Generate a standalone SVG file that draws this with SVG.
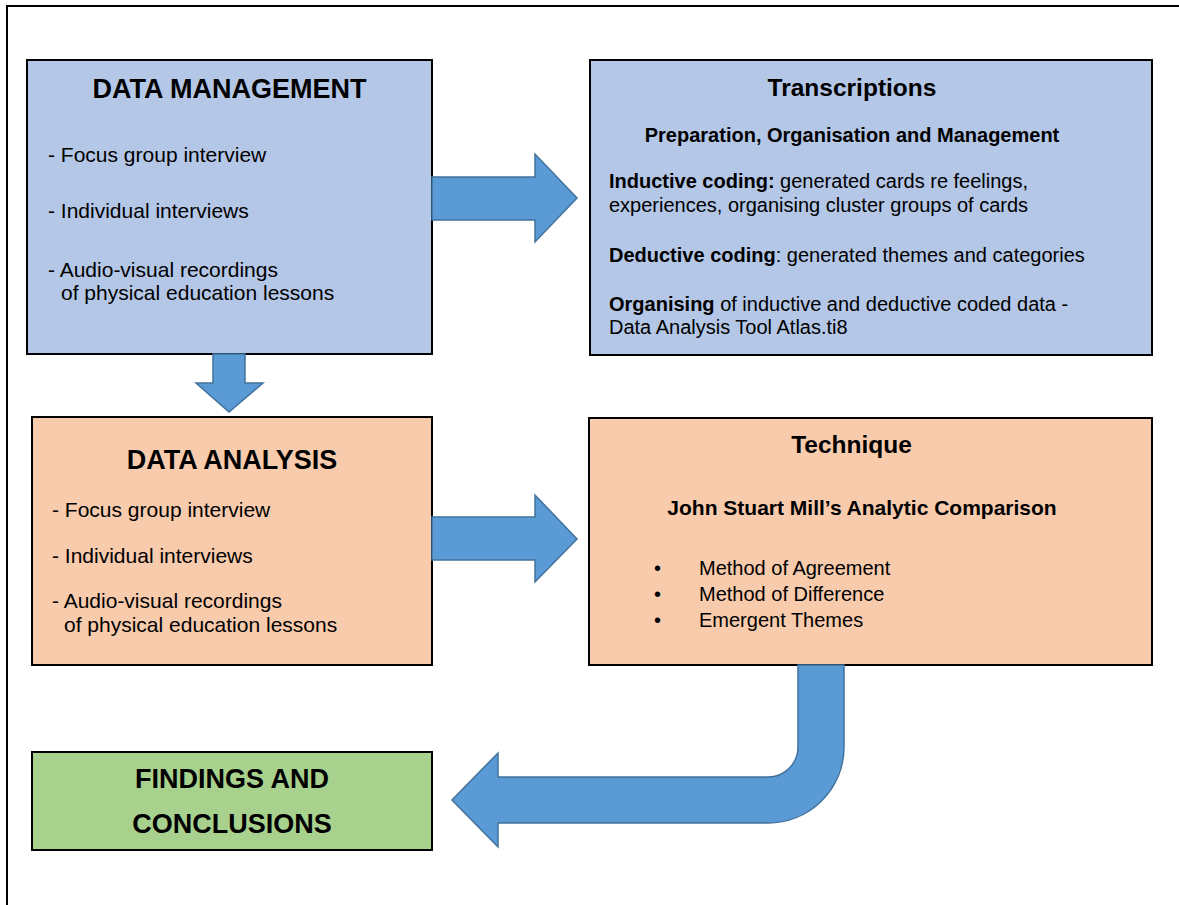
<svg xmlns="http://www.w3.org/2000/svg" width="1179" height="905" viewBox="0 0 1179 905">
<style>
text{font-family:"Liberation Sans",Arial,sans-serif;fill:#000}
.box{stroke:#000;stroke-width:2}
.blue{fill:#B4C7E7}
.orange{fill:#F8CBAD}
.green{fill:#A9D18E}
.title{font-size:27px;font-weight:bold;text-anchor:middle}
.title2{font-size:24.5px;font-weight:bold;text-anchor:middle}
.sub{font-size:20px;font-weight:bold;text-anchor:middle}
.item{font-size:21px}
.body{font-size:20px}
.b{font-weight:bold}
.arrow{fill:#5B9BD5;stroke:#41719C;stroke-width:1.5;stroke-linejoin:miter}
</style>
<rect x="7" y="6" width="1200" height="1000" fill="#fff" stroke="#000" stroke-width="2"/>

<g id="data-management">
<rect class="box blue" x="27" y="60" width="405" height="294"/>
<text class="title" x="229.5" y="98">DATA MANAGEMENT</text>
<text class="item" x="48" y="162">- Focus group interview</text>
<text class="item" x="48" y="218">- Individual interviews</text>
<text class="item" x="48" y="277">- Audio-visual recordings</text>
<text class="item" x="61" y="300">of physical education lessons</text>
</g>

<g id="transcriptions">
<rect class="box blue" x="590" y="60" width="562" height="295"/>
<text class="title2" x="852" y="96">Transcriptions</text>
<text class="sub" x="852" y="142">Preparation, Organisation and Management</text>
<text class="body" x="609" y="188"><tspan class="b">Inductive coding:</tspan> generated cards re feelings,</text>
<text class="body" x="609" y="212">experiences, organising cluster groups of cards</text>
<text class="body" x="609" y="262"><tspan class="b">Deductive coding</tspan>: generated themes and categories</text>
<text class="body" x="609" y="311"><tspan class="b">Organising</tspan> of inductive and deductive coded data -</text>
<text class="body" x="609" y="334">Data Analysis Tool Atlas.ti8</text>
</g>

<g id="data-analysis">
<rect class="box orange" x="32" y="417" width="400" height="248"/>
<text class="title" x="232" y="469">DATA ANALYSIS</text>
<text class="item" x="52" y="517">- Focus group interview</text>
<text class="item" x="52" y="563">- Individual interviews</text>
<text class="item" x="52" y="608">- Audio-visual recordings</text>
<text class="item" x="64" y="632">of physical education lessons</text>
</g>

<g id="technique">
<rect class="box orange" x="589" y="418" width="563" height="247"/>
<text class="title2" x="851.5" y="453">Technique</text>
<text class="sub" x="862" y="515" style="font-size:21px">John Stuart Mill’s Analytic Comparison</text>
<text class="body" x="654" y="575">•</text>
<text class="body" x="699" y="575">Method of Agreement</text>
<text class="body" x="654" y="601">•</text>
<text class="body" x="699" y="601">Method of Difference</text>
<text class="body" x="654" y="627">•</text>
<text class="body" x="699" y="627">Emergent Themes</text>
</g>

<g id="findings">
<rect class="box green" x="32" y="752" width="400" height="98"/>
<text class="title" x="232" y="788">FINDINGS AND</text>
<text class="title" x="232" y="833">CONCLUSIONS</text>
</g>

<g id="connectors">
<polygon class="arrow" points="432,177 535,177 535,154 577,198 535,242 535,220 432,220"/>
<polygon class="arrow" points="213,354 245,354 245,383 263,383 229,412 196,383 213,383"/>
<polygon class="arrow" points="432,517 535,517 535,495 577,539 535,582 535,560 432,560"/>
<path class="arrow" d="M798,665 L798,747 A30,30 0 0 1 768,777 L498,777 L498,753 L452,800 L498,847 L498,823 L768,823 A76,76 0 0 0 844,747 L844,665 Z"/>
</g>
</svg>
